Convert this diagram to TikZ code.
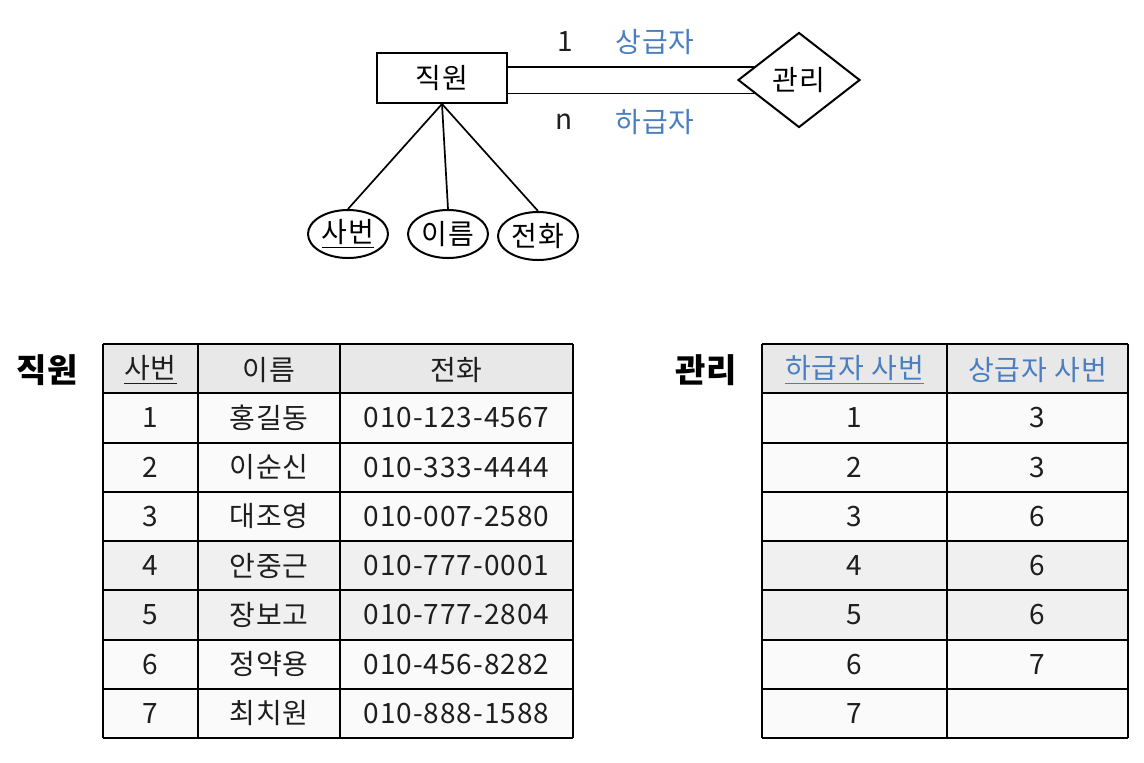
\documentclass[tikz,border=0pt]{standalone}
\usepackage{fontspec}
\setmainfont[LetterSpace=3.5]{Noto Sans CJK KR}
\usetikzlibrary{shapes.geometric}
\definecolor{hdr}{HTML}{E8E8E8}
\definecolor{rowa}{HTML}{FAFAFA}
\definecolor{rowb}{HTML}{F0F0F0}
\definecolor{kblue}{HTML}{4A7EC1}
\definecolor{ink}{HTML}{1E1E1E}
\begin{document}
\begin{tikzpicture}[x=0.5pt,y=-0.5pt,
  txt/.style={font=\fontsize{14}{16}\selectfont, inner sep=0pt, text=ink},
  ttl/.style={font=\fontsize{16.5}{18}\selectfont\bfseries, inner sep=0pt, text=black},
  entbox/.style={draw, line width=1pt, minimum width=65pt, minimum height=25pt, inner sep=0pt, font=\fontsize{14}{16}\selectfont},
  relbox/.style={draw, diamond, line width=1pt, minimum width=61pt, minimum height=47.5pt, inner sep=0pt, font=\fontsize{14}{16}\selectfont},
  attrbox/.style={draw, ellipse, line width=1pt, minimum width=40pt, minimum height=24pt, inner sep=0pt, font=\fontsize{14}{16}\selectfont},
  conn/.style={line width=0.85pt},
  grid/.style={line width=1pt}]
\useasboundingbox (0,0) rectangle (1144,762);
\fill[white] (0,0) rectangle (1144,762);

% ---- ER diagram ----
\node[entbox] (jw) at (442,78) {직원};
\node[relbox] (gw) at (799,80) {관리};
\node[attrbox] (sb) at (348,234) {\underline{사번}};
\node[attrbox] (ir) at (448,234) {이름};
\node[attrbox] (jh) at (538,236) {전화};
\draw[conn] (gw.164 -| jw.east) -- (gw.164);
\draw[conn] (gw.197 -| jw.east) -- (gw.197);
\draw[conn] (jw.south) -- (sb.north);
\draw[conn] (jw.south) -- (ir.north);
\draw[conn] (jw.south) -- (jh.north);
\node[txt] (one) at (565,42) {1};
\node[txt] (enn) at (564,122) {n};
\node[txt, text=kblue] (sang) at (655,42) {상급자};
\node[txt, text=kblue] (ha) at (655,122) {하급자};

% ---- titles ----
\node[ttl] (t1) at (47,370) {직원};
\node[ttl] (t2) at (706,370) {관리};

% ---- row fills ----
\fill[hdr] (103,344) rectangle (573,393.25);
\fill[hdr] (762,344) rectangle (1128,393.25);
\foreach \i in {1,...,7}{
  \pgfmathsetmacro\ya{344+49.25*\i}
  \pgfmathsetmacro\yb{344+49.25*(\i+1)}
  \ifnum\i=4 \def\rc{rowb}\else\ifnum\i=5 \def\rc{rowb}\else\def\rc{rowa}\fi\fi
  \fill[\rc] (103,\ya) rectangle (573,\yb);
  \fill[\rc] (762,\ya) rectangle (1128,\yb);
}

% ---- left table ----
\node[txt] (h1) at (150.5,370) {\underline{사번}};
\node[txt] (h2) at (269,370) {이름};
\node[txt] (h3) at (456.5,370) {전화};
\foreach \i/\a/\b in {1/홍길동/010-123-4567, 2/이순신/010-333-4444, 3/대조영/010-007-2580, 4/안중근/010-777-0001, 5/장보고/010-777-2804, 6/정약용/010-456-8282, 7/최치원/010-888-1588}{
  \node[txt] (ea\i) at (150.5,{344+49.25*(\i+0.5)}) {\i};
  \node[txt] (eb\i) at (269,{344+49.25*(\i+0.5)}) {\a};
  \node[txt] (ec\i) at (456.5,{344+49.25*(\i+0.5)}) {\b};
}

% ---- right table ----
\node[txt, text=kblue] (r1) at (854.5,370) {\underline{하급자 사번}};
\node[txt, text=kblue] (r2) at (1037.5,370) {상급자 사번};
\foreach \i/\a in {1/3, 2/3, 3/6, 4/6, 5/6, 6/7, 7/}{
  \node[txt] (ga\i) at (854.5,{344+49.25*(\i+0.5)}) {\i};
  \node[txt] (gb\i) at (1037.5,{344+49.25*(\i+0.5)}) {\a};
}

% ---- grid lines ----
\foreach \i in {0,...,8}{
  \draw[grid] (103,{344+49.25*\i}) -- (573,{344+49.25*\i});
  \draw[grid] (762,{344+49.25*\i}) -- (1128,{344+49.25*\i});
}
\foreach \x in {103,198,340,573,762,947,1128}{
  \draw[grid] (\x,344) -- (\x,738);
}
\end{tikzpicture}
\end{document}
